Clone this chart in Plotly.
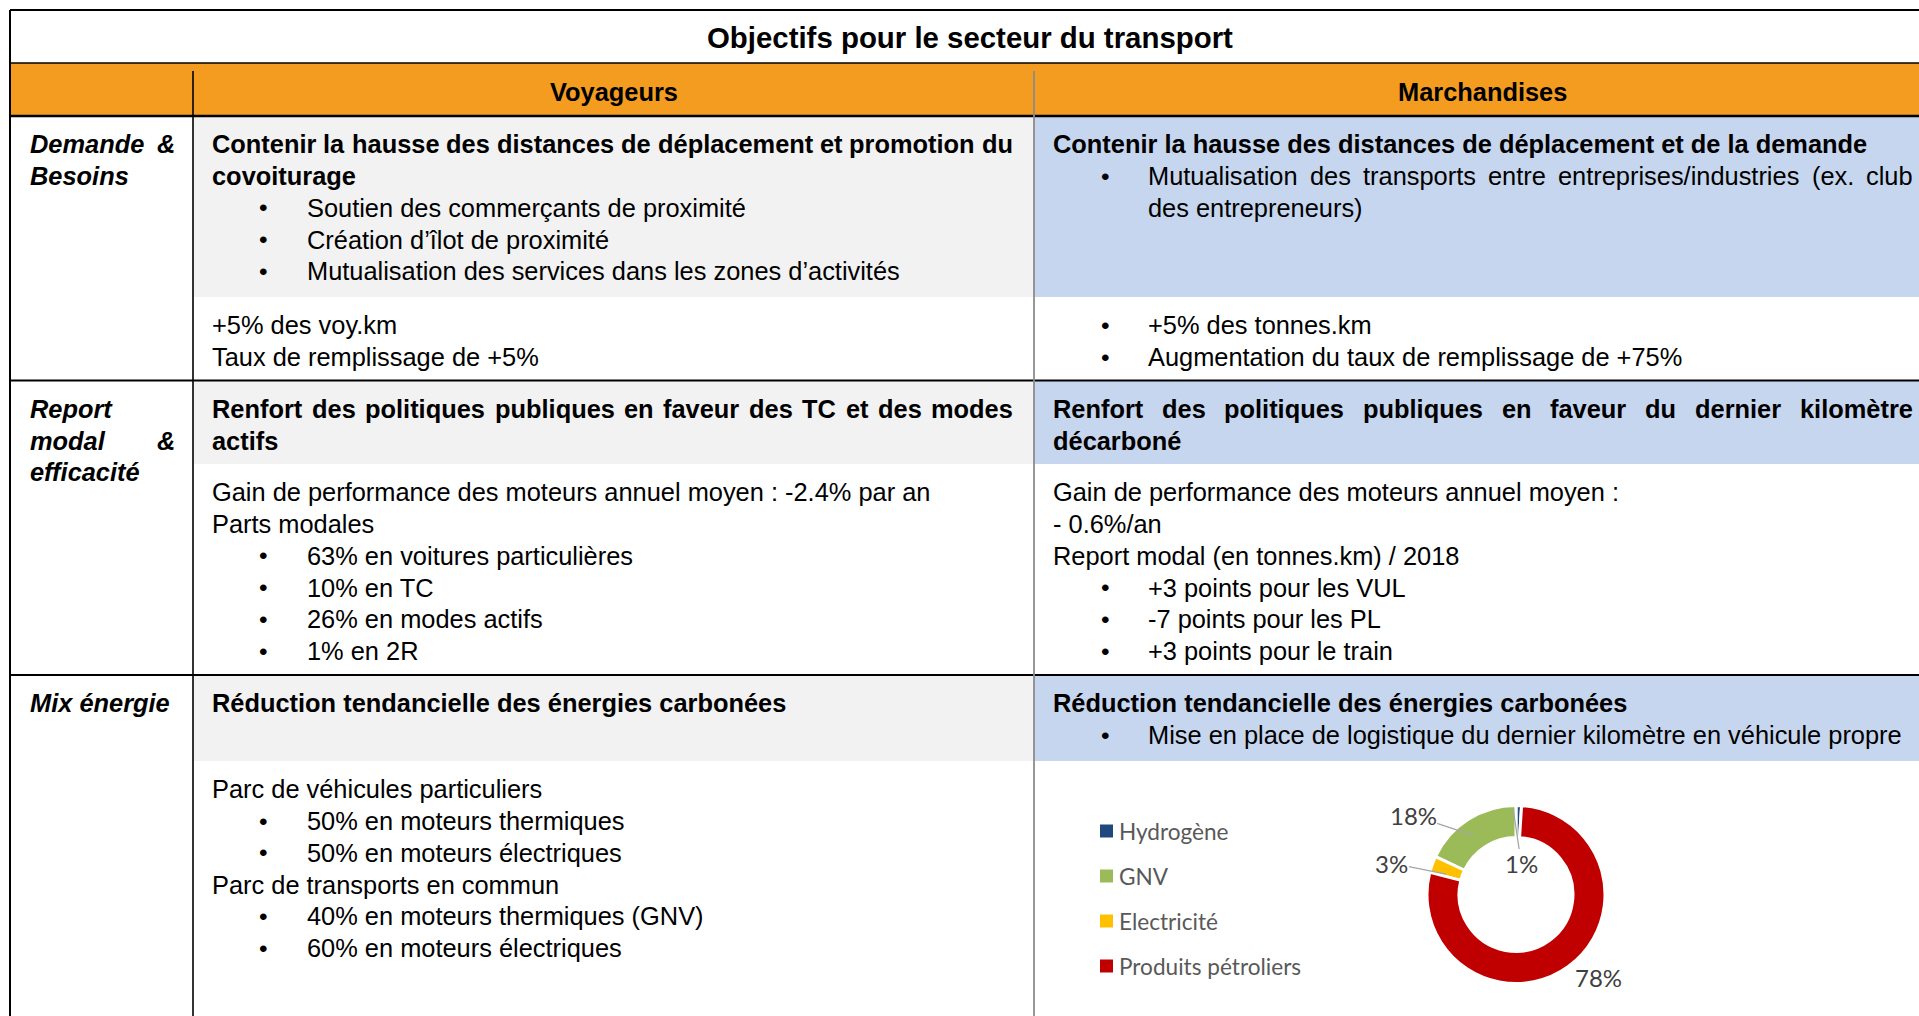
import math
import plotly.graph_objects as go

W, H = 1919, 1016

# ---------------- data ----------------
title = "Objectifs pour le secteur du transport"
col_headers = ["Voyageurs", "Marchandises"]
row_labels = [["Demande &", "Besoins"], ["Report", "modal &", "efficacité"], ["Mix énergie"]]
row_label_just = [[True, False], [False, True, False], [False]]

# line styles: H bold, HJ bold justified, P plain, B bullet, BJ bullet justified, C continuation
voy_shaded = [
    [("HJ", "Contenir la hausse des distances de déplacement et promotion du"),
     ("H", "covoiturage"),
     ("B", "Soutien des commerçants de proximité"),
     ("B", "Création d’îlot de proximité"),
     ("B", "Mutualisation des services dans les zones d’activités")],
    [("HJ", "Renfort des politiques publiques en faveur des TC et des modes"),
     ("H", "actifs")],
    [("H", "Réduction tendancielle des énergies carbonées")],
]
voy_white = [
    [("P", "+5% des voy.km"), ("P", "Taux de remplissage de +5%")],
    [("P", "Gain de performance des moteurs annuel moyen : -2.4% par an"),
     ("P", "Parts modales"),
     ("B", "63% en voitures particulières"),
     ("B", "10% en TC"),
     ("B", "26% en modes actifs"),
     ("B", "1% en 2R")],
    [("P", "Parc de véhicules particuliers"),
     ("B", "50% en moteurs thermiques"),
     ("B", "50% en moteurs électriques"),
     ("P", "Parc de transports en commun"),
     ("B", "40% en moteurs thermiques (GNV)"),
     ("B", "60% en moteurs électriques")],
]
mar_shaded = [
    [("H", "Contenir la hausse des distances de déplacement et de la demande"),
     ("BJ", "Mutualisation des transports entre entreprises/industries (ex. club"),
     ("C", "des entrepreneurs)")],
    [("HJ", "Renfort des politiques publiques en faveur du dernier kilomètre"),
     ("H", "décarboné")],
    [("H", "Réduction tendancielle des énergies carbonées"),
     ("B", "Mise en place de logistique du dernier kilomètre en véhicule propre")],
]
mar_white = [
    [("B", "+5% des tonnes.km"), ("B", "Augmentation du taux de remplissage de +75%")],
    [("P", "Gain de performance des moteurs annuel moyen :"),
     ("P", "- 0.6%/an"),
     ("P", "Report modal (en tonnes.km) / 2018"),
     ("B", "+3 points pour les VUL"),
     ("B", "-7 points pour les PL"),
     ("B", "+3 points pour le train")],
    None,
]

energy_labels = ["Hydrogène", "GNV", "Electricité", "Produits pétroliers"]
energy_values = [1, 18, 3, 78]

# ---------------- style / layout ----------------
energy_colors = ["#1F497D", "#9BBB59", "#FFC000", "#C00000"]
ORANGE = "#F39C1F"
GREY = "#F2F2F2"
BLUE = "#C6D6EE"
FONT = "Liberation Sans, Arial, sans-serif"
CFONT = "Lato, Carlito, Calibri, sans-serif"
FS = 25.4
TITLE_FS = 29.4
BULLET_FS = 24.5
PITCH = 31.8
FIRST = 28.2

X_L, X_C1, X_C2, X_R = 10, 193, 1034, 1930
Y_T, Y_TITLE, Y_HEAD = 10, 63, 116
row_tops = [116, 380.5, 675]
shade_bottoms = [297, 464, 761]
row_bottoms = [380.5, 675, 1040]
LABEL_X, LABEL_R = 30, 175
TXT_X = [212, 1052.5]
TXT_R = [1013, 1913]
BUL_X = [263, 1105]
BUL_TXT_X = [307, 1148]

# Arial / Liberation Sans advance widths (1/1000 em)
REG = dict(zip("abcdefghijklmnopqrstuvwxyz",
               [556, 556, 500, 556, 556, 278, 556, 556, 222, 222, 500, 222, 833, 556, 556, 556, 556,
                333, 500, 278, 556, 500, 722, 500, 500, 500]))
REG.update(zip("ABCDEFGHIJKLMNOPQRSTUVWXYZ",
               [667, 667, 722, 722, 667, 611, 778, 722, 278, 500, 667, 556, 833, 722, 778, 667, 778,
                722, 667, 611, 722, 667, 944, 667, 667, 611]))
REG.update({" ": 278, "%": 889, "&": 667, "(": 333, ")": 333, "+": 584, ",": 278, "-": 333, ".": 278,
            "/": 278, ":": 278, "’": 222, "é": 556, "è": 556, "ê": 556, "ç": 500, "î": 278, "•": 350})
BOLD = dict(zip("abcdefghijklmnopqrstuvwxyz",
                [556, 611, 556, 611, 556, 333, 611, 611, 278, 278, 556, 278, 889, 611, 611, 611, 611,
                 389, 556, 333, 611, 556, 778, 556, 556, 500]))
BOLD.update(zip("ABCDEFGHIJKLMNOPQRSTUVWXYZ",
                [722, 722, 722, 722, 667, 611, 778, 722, 278, 556, 722, 611, 833, 722, 778, 667, 778,
                 722, 667, 611, 722, 667, 944, 667, 667, 611]))
BOLD.update({" ": 278, "%": 889, "&": 722, "(": 333, ")": 333, "+": 584, ",": 278, "-": 333, ".": 278,
             "/": 278, ":": 333, "’": 278, "é": 556, "è": 556, "ê": 556, "ç": 556, "î": 278})


def text_width(s, bold, size):
    tbl = BOLD if bold else REG
    return sum(tbl.get(ch, 556) for ch in s) / 1000.0 * size


def esc(s):
    return s.replace("&", "&amp;")


def fmt(s, bold=False, italic=False):
    s = esc(s)
    if italic:
        s = "<i>" + s + "</i>"
    if bold:
        s = "<b>" + s + "</b>"
    return s


fig = go.Figure()


def add_text(x, y, text, size=FS, anchor="left", color="black", family=FONT, bold=False, italic=False):
    fig.add_annotation(x=x, y=y, xref="x", yref="y", text=fmt(text, bold, italic), showarrow=False,
                       xanchor=anchor, yanchor="middle", borderpad=0, borderwidth=0,
                       font=dict(family=family, size=size, color=color))


def add_justified(x0, x1, y, text, bold=False, italic=False, size=FS):
    words = text.split(" ")
    ws = [text_width(w, bold, size) for w in words]
    gap = (x1 - x0 - sum(ws)) / max(len(words) - 1, 1)
    x = x0
    for w, wd in zip(words, ws):
        add_text(x, y, w, size=size, bold=bold, italic=italic)
        x += wd + gap


def add_lines(lines, col, top):
    for i, (st, txt) in enumerate(lines):
        y = top + FIRST + PITCH * i
        if st == "H":
            add_text(TXT_X[col], y, txt, bold=True)
        elif st == "HJ":
            add_justified(TXT_X[col], TXT_R[col], y, txt, bold=True)
        elif st == "P":
            add_text(TXT_X[col], y, txt)
        elif st in ("B", "BJ"):
            add_text(BUL_X[col], y, "•", size=BULLET_FS, anchor="center")
            if st == "B":
                add_text(BUL_TXT_X[col], y, txt)
            else:
                add_justified(BUL_TXT_X[col], TXT_R[col], y, txt)
        elif st == "C":
            add_text(BUL_TXT_X[col], y, txt)


# ---------------- backgrounds ----------------
shapes = []


def rect(x0, y0, x1, y1, color):
    shapes.append(dict(type="rect", xref="x", yref="y", x0=x0, y0=y0, x1=x1, y1=y1,
                       fillcolor=color, line=dict(width=0), layer="below"))


def line(x0, y0, x1, y1, color="black", width=2):
    shapes.append(dict(type="line", xref="x", yref="y", x0=x0, y0=y0, x1=x1, y1=y1,
                       line=dict(color=color, width=width), layer="above"))


rect(X_L, Y_TITLE, X_R, Y_HEAD, ORANGE)
for r in range(3):
    rect(X_C1, row_tops[r], X_C2, shade_bottoms[r], GREY)
    rect(X_C2, row_tops[r], X_R, shade_bottoms[r], BLUE)

line(X_L, Y_T, X_R, Y_T, width=2)
line(X_L, Y_T, X_L, H + 20, width=2)
line(X_L, Y_TITLE, X_R, Y_TITLE, width=1.5)
line(X_L, Y_HEAD, X_R, Y_HEAD, width=2.5)
for r in range(2):
    line(X_L, row_bottoms[r], X_R, row_bottoms[r], width=2.2)
line(X_C1, Y_TITLE + 8, X_C1, H + 20, width=1.6)
line(X_C2, Y_TITLE + 8, X_C2, H + 20, color="#8C8C8C", width=1.8)

# ---------------- texts ----------------
add_text((X_L + X_R) / 2, 37.5, title, size=TITLE_FS, anchor="center", bold=True)
add_text((X_C1 + X_C2) / 2, 92, col_headers[0], anchor="center", bold=True)
add_text((X_C2 + X_R) / 2, 92, col_headers[1], anchor="center", bold=True)

for r in range(3):
    for i, lab in enumerate(row_labels[r]):
        y = row_tops[r] + FIRST + PITCH * i
        if row_label_just[r][i]:
            add_justified(LABEL_X, LABEL_R, y, lab, bold=True, italic=True)
        else:
            add_text(LABEL_X, y, lab, bold=True, italic=True)
    add_lines(voy_shaded[r], 0, row_tops[r])
    add_lines(voy_white[r], 0, shade_bottoms[r])
    add_lines(mar_shaded[r], 1, row_tops[r])
    if mar_white[r]:
        add_lines(mar_white[r], 1, shade_bottoms[r])

# ---------------- doughnut ----------------
CX, CY, R = 1516, 894.5, 89
HOLE = 0.64
fig.add_trace(go.Pie(
    labels=energy_labels, values=energy_values, hole=HOLE, sort=False,
    direction="counterclockwise", rotation=0,
    marker=dict(colors=energy_colors, line=dict(color="white", width=3)),
    textinfo="none", hoverinfo="label+percent", showlegend=False,
    domain=dict(x=[(CX - R) / W, (CX + R) / W], y=[1 - (CY + R) / H, 1 - (CY - R) / H]),
))

# labels positioned from slice angles
PCT_FS = 24
label_radius = [0.95, 0.82, 0.82, 1.0]          # fraction of R where the leader line ends
label_offset = [(8, 54), (-60, -20), (-54, -11), (26, 14)]
label_arrow = [True, True, True, False]
total = float(sum(energy_values))
cum = 0.0
for lab, v, rf, off, arr in zip(energy_labels, energy_values, label_radius, label_offset, label_arrow):
    mid = -(cum + v / 2.0) / total * 2 * math.pi
    cum += v
    hx = CX + rf * R * math.sin(mid)
    hy = CY - rf * R * math.cos(mid)
    pct = "%d%%" % round(100 * v / total)
    if arr:
        fig.add_annotation(x=hx, y=hy, xref="x", yref="y", ax=hx + off[0], ay=hy + off[1],
                           axref="x", ayref="y", text=pct, showarrow=True, arrowhead=0,
                           arrowwidth=1.3, arrowcolor="#A6A6A6", standoff=0, borderpad=0,
                           font=dict(family=CFONT, size=PCT_FS, color="#404040"))
    else:
        add_text(hx + off[0], hy + off[1], pct, size=PCT_FS, anchor="center", color="#404040", family=CFONT)

# legend (drawn manually, Excel-like spacing)
LEG_X, LEG_Y0, LEG_DY, SQ = 1100, 831, 45, 13
for i, (lab, col) in enumerate(zip(energy_labels, energy_colors)):
    y = LEG_Y0 + LEG_DY * i
    shapes.append(dict(type="rect", xref="x", yref="y", x0=LEG_X, x1=LEG_X + SQ, y0=y - SQ / 2,
                       y1=y + SQ / 2, fillcolor=col, line=dict(width=0), layer="above"))
    add_text(LEG_X + SQ + 6, y, lab, size=22.6, color="#595959", family=CFONT)

fig.update_layout(
    width=W, height=H, margin=dict(l=0, r=0, t=0, b=0),
    paper_bgcolor="white", plot_bgcolor="white",
    xaxis=dict(range=[0, W], visible=False, fixedrange=True),
    yaxis=dict(range=[H, 0], visible=False, fixedrange=True),
    shapes=shapes, showlegend=False,
)

fig.write_html("out.html", config={"displayModeBar": False},
               post_script="document.body.style.margin='0';document.body.style.overflow='hidden';")
